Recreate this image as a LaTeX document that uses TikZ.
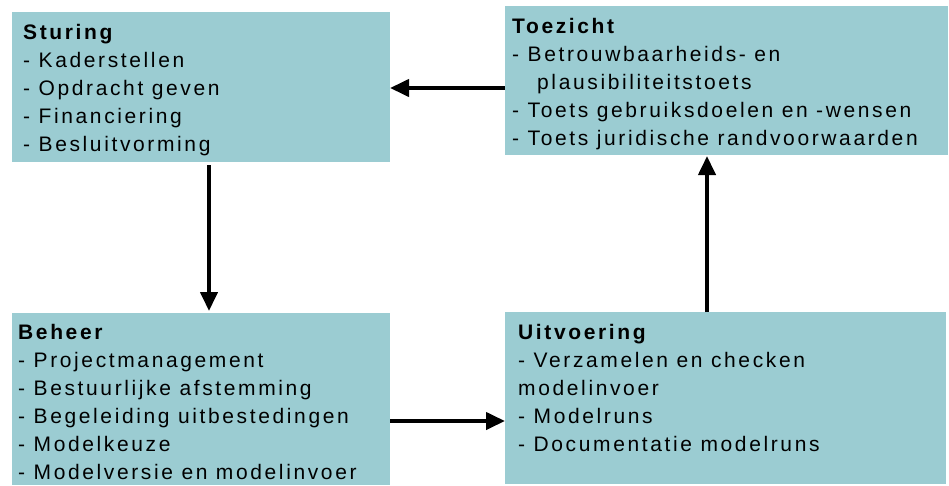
\documentclass[tikz,border=0pt]{standalone}
\usepackage{fontspec}
\setmainfont{Liberation Sans}[LetterSpace=12.5]
\usetikzlibrary{arrows.meta}
\definecolor{boxfill}{RGB}{155,204,210}
\tikzset{
  box/.style={fill=boxfill, draw=none, anchor=north west, inner sep=0pt},
  txt/.style={anchor=north west, align=left, inner sep=0pt, font=\fontsize{21}{28}\selectfont},
  conn/.style={line width=4pt, -{Triangle[length=19pt,width=17pt]}}
}
\begin{document}
\begin{tikzpicture}[x=1pt,y=-1pt]
\useasboundingbox (0,0) rectangle (949,485);
\node[box, minimum width=378pt, minimum height=150pt] (sturing) at (12,12) {};
\node[box, minimum width=443pt, minimum height=149pt] (toezicht) at (505,6) {};
\node[box, minimum width=378pt, minimum height=172pt] (beheer) at (12,313) {};
\node[box, minimum width=441pt, minimum height=172pt] (uitvoering) at (505,312) {};

\node[txt] (ts) at (23,24) {\textbf{Sturing}\\- Kaderstellen\\- Opdracht geven\\- Financiering\\- Besluitvorming};
\node[txt] (tt) at (512,18) {\textbf{Toezicht}\\- Betrouwbaarheids- en\\\hspace*{25pt}plausibiliteitstoets\\- Toets gebruiksdoelen en -wensen\\- Toets juridische randvoorwaarden};
\node[txt] (tb) at (18,324) {\textbf{Beheer}\\- Projectmanagement\\- Bestuurlijke afstemming\\- Begeleiding uitbestedingen\\- Modelkeuze\\- Modelversie en modelinvoer};
\node[txt] (tu) at (518,324) {\textbf{Uitvoering}\\- Verzamelen en checken\\modelinvoer\\- Modelruns\\- Documentatie modelruns};

\coordinate (a1s) at (505,88);
\coordinate (a1e) at (390,88);
\coordinate (a2s) at (209,165);
\coordinate (a2e) at (209,311);
\coordinate (a3s) at (390,421);
\coordinate (a3e) at (505,421);
\coordinate (a4s) at (707,312);
\coordinate (a4e) at (707,156);
\draw[conn] (a1s) -- (a1e);
\draw[conn] (a2s) -- (a2e);
\draw[conn] (a3s) -- (a3e);
\draw[conn] (a4s) -- (a4e);
\end{tikzpicture}
\end{document}
